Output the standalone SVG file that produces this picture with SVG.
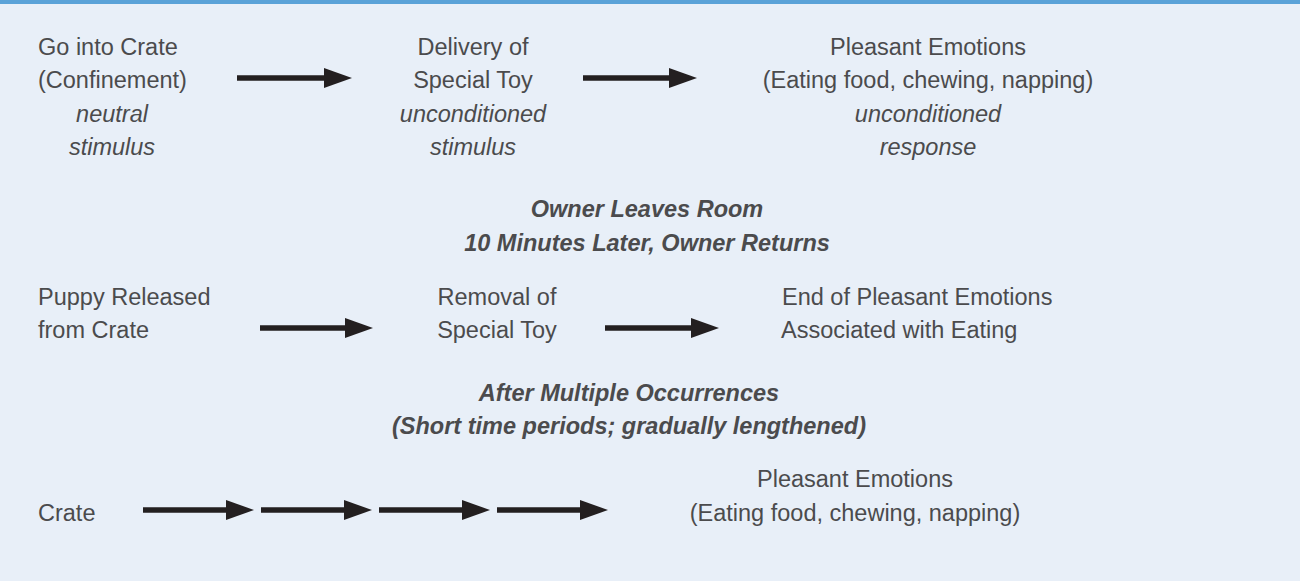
<svg xmlns="http://www.w3.org/2000/svg" width="1300" height="581" viewBox="0 0 1300 581">
  <style>
    .t { font-family: "Liberation Sans", Arial, sans-serif; font-size: 23.5px; fill: #4b4b4d; }
    .c { text-anchor: middle; }
    .i { font-style: italic; }
    .bi { font-style: italic; font-weight: bold; }
    .arr { stroke: #231f20; stroke-width: 5.5; fill: none; marker-end: url(#ah); }
  </style>
  <defs>
    <marker id="ah" markerWidth="28" markerHeight="20" refX="14" refY="10" orient="auto" markerUnits="userSpaceOnUse">
      <path d="M0,0 L28,10 L0,20 Z" fill="#231f20"/>
    </marker>
  </defs>
  <rect x="0" y="0" width="1300" height="581" fill="#e8eff8"/>
  <rect x="0" y="0" width="1300" height="4" fill="#5aa2d8"/>

  <g id="n-crate-confinement">
    <text class="t" x="38" y="55">Go into Crate</text>
    <text class="t" x="38" y="88">(Confinement)</text>
    <text class="t c i" x="112" y="122">neutral</text>
    <text class="t c i" x="112" y="155">stimulus</text>
  </g>
  <g id="n-delivery-toy">
    <text class="t c" x="473" y="55">Delivery of</text>
    <text class="t c" x="473" y="88">Special Toy</text>
    <text class="t c i" x="473" y="122">unconditioned</text>
    <text class="t c i" x="473" y="155">stimulus</text>
  </g>
  <g id="n-pleasant-1">
    <text class="t c" x="928" y="55">Pleasant Emotions</text>
    <text class="t c" x="928" y="88">(Eating food, chewing, napping)</text>
    <text class="t c i" x="928" y="122">unconditioned</text>
    <text class="t c i" x="928" y="155">response</text>
  </g>
  <g id="n-owner-leaves">
    <text class="t c bi" x="647" y="217">Owner Leaves Room</text>
    <text class="t c bi" x="647" y="251">10 Minutes Later, Owner Returns</text>
  </g>
  <g id="n-puppy-released">
    <text class="t" x="38" y="305">Puppy Released</text>
    <text class="t" x="38" y="338">from Crate</text>
  </g>
  <g id="n-removal-toy">
    <text class="t c" x="497" y="305">Removal of</text>
    <text class="t c" x="497" y="338">Special Toy</text>
  </g>
  <g id="n-end-pleasant">
    <text class="t" x="782" y="305">End of Pleasant Emotions</text>
    <text class="t" x="781" y="338">Associated with Eating</text>
  </g>
  <g id="n-after-multiple">
    <text class="t c bi" x="629" y="401">After Multiple Occurrences</text>
    <text class="t c bi" x="629" y="434">(Short time periods; gradually lengthened)</text>
  </g>
  <g id="n-crate">
    <text class="t" x="38" y="521">Crate</text>
  </g>
  <g id="n-pleasant-2">
    <text class="t c" x="855" y="487">Pleasant Emotions</text>
    <text class="t c" x="855" y="521">(Eating food, chewing, napping)</text>
  </g>

  <g id="connectors">
    <line class="arr" x1="237" y1="78" x2="338" y2="78"/>
    <line class="arr" x1="583" y1="78" x2="683" y2="78"/>
    <line class="arr" x1="260" y1="328" x2="359" y2="328"/>
    <line class="arr" x1="605" y1="328" x2="705" y2="328"/>
    <line class="arr" x1="143" y1="510" x2="240" y2="510"/>
    <line class="arr" x1="261" y1="510" x2="358" y2="510"/>
    <line class="arr" x1="379" y1="510" x2="476" y2="510"/>
    <line class="arr" x1="497" y1="510" x2="594" y2="510"/>
  </g>
</svg>
